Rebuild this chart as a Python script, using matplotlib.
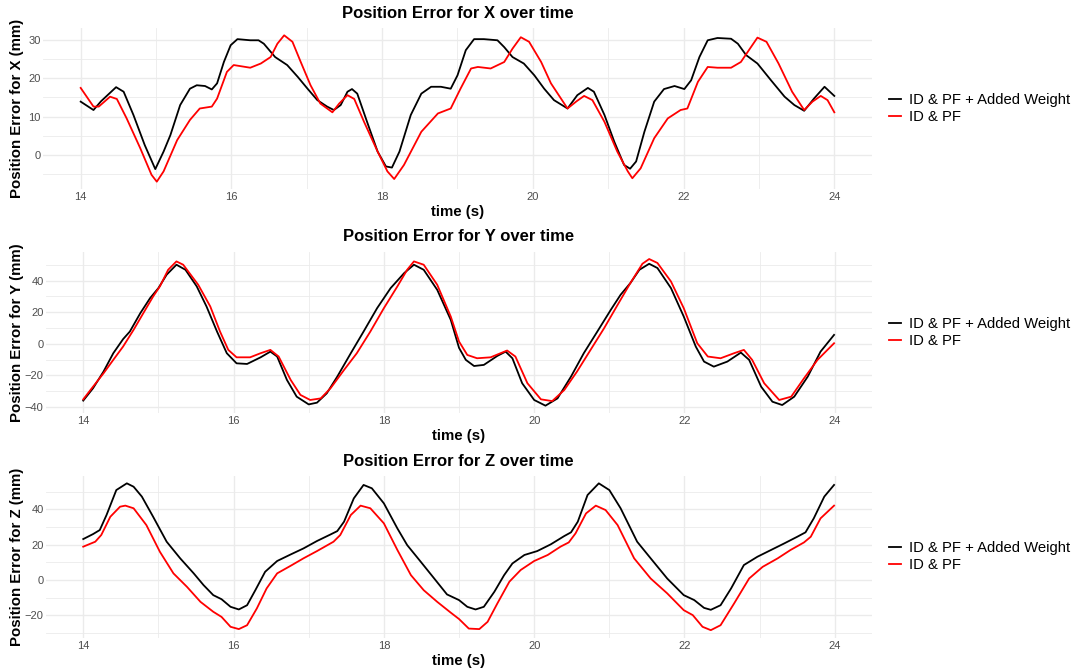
import matplotlib
matplotlib.use("Agg")
import matplotlib.pyplot as plt
from matplotlib.ticker import MultipleLocator

plt.rcParams['font.family'] = ['Liberation Sans', 'DejaVu Sans']

series_labels = ["ID & PF + Added Weight", "ID & PF"]
series_colors = ["#000000", "#FF0000"]
axis_names = ["X", "Y", "Z"]
x_ticks = [14, 16, 18, 20, 22, 24]

# ---- X panel ----
tx_black = [14.00, 14.17, 14.27, 14.47, 14.57, 14.70, 14.85, 14.99, 15.10, 15.19, 15.32, 15.45, 15.54,
            15.65, 15.74, 15.81, 15.90, 15.99, 16.08, 16.25, 16.36, 16.43, 16.52, 16.58, 16.74, 16.88,
            17.01, 17.14, 17.27, 17.36, 17.45, 17.54, 17.60, 17.67, 17.80, 17.94, 18.05, 18.13, 18.23,
            18.38, 18.52, 18.65, 18.78, 18.91, 19.00, 19.11, 19.22, 19.35, 19.53, 19.62, 19.73, 19.88,
            20.02, 20.15, 20.28, 20.46, 20.59, 20.73, 20.81, 20.95, 21.08, 21.21, 21.29, 21.37, 21.48,
            21.61, 21.74, 21.88, 22.01, 22.10, 22.21, 22.32, 22.45, 22.63, 22.72, 22.83, 22.98, 23.16,
            23.34, 23.47, 23.60, 23.73, 23.87, 24.00]
vx_black = [13.9, 11.7, 14.0, 17.7, 16.5, 10.4, 2.5, -3.8, 0.8, 5.1, 13.0, 17.3, 18.2,
            18.0, 17.1, 18.7, 24.3, 28.7, 30.3, 30.0, 30.0, 29.1, 27.0, 25.6, 23.5, 20.4,
            17.3, 14.3, 12.6, 11.7, 13.0, 16.5, 17.2, 16.0, 8.6, 0.8, -3.1, -3.4, 0.8,
            10.4, 16.0, 17.8, 17.8, 17.3, 20.8, 27.4, 30.3, 30.3, 30.0, 28.2, 25.6, 23.9,
            20.8, 17.3, 14.3, 12.1, 15.6, 17.5, 16.5, 10.4, 3.4, -2.7, -3.7, -1.8, 6.0,
            13.9, 17.2, 18.0, 17.2, 19.5, 25.6, 30.0, 30.6, 30.4, 29.1, 26.1, 23.9, 19.5,
            15.2, 13.0, 11.5, 14.7, 17.8, 15.4]
tx_red = [14.00, 14.17, 14.24, 14.39, 14.48, 14.61, 14.79, 14.94, 15.01, 15.10, 15.28, 15.45, 15.58,
          15.74, 15.81, 15.94, 16.03, 16.25, 16.39, 16.52, 16.61, 16.70, 16.81, 16.92, 17.05, 17.18,
          17.34, 17.43, 17.54, 17.63, 17.76, 17.94, 18.07, 18.16, 18.29, 18.52, 18.74, 18.91, 19.04,
          19.18, 19.27, 19.44, 19.62, 19.73, 19.84, 19.95, 20.11, 20.24, 20.46, 20.58, 20.68, 20.79,
          20.95, 21.12, 21.26, 21.32, 21.43, 21.61, 21.79, 21.96, 22.05, 22.19, 22.32, 22.45, 22.63,
          22.76, 22.88, 22.98, 23.10, 23.26, 23.44, 23.60, 23.71, 23.82, 23.91, 24.00]
vx_red = [17.5, 12.6, 12.6, 15.2, 14.6, 9.5, 1.7, -5.3, -7.1, -4.4, 3.8, 9.1, 12.1,
          12.6, 14.7, 21.7, 23.5, 22.8, 23.9, 25.6, 29.1, 31.3, 29.6, 24.3, 18.2, 13.4,
          11.1, 13.4, 15.6, 14.6, 8.6, 0.8, -4.4, -6.4, -2.7, 6.0, 10.8, 12.1, 17.3,
          22.6, 23.0, 22.6, 24.3, 27.8, 30.8, 29.6, 24.3, 18.7, 12.1, 14.0, 15.4, 14.3,
          8.6, 0.8, -4.4, -6.2, -3.6, 4.3, 9.5, 11.7, 12.1, 19.1, 23.0, 22.8, 22.8,
          24.3, 27.8, 30.7, 29.6, 23.9, 16.5, 11.7, 13.9, 15.4, 14.3, 11.1]

# ---- Y panel ----
ty_black = [14.00, 14.13, 14.27, 14.40, 14.53, 14.62, 14.76, 14.89, 15.00, 15.11, 15.24, 15.36, 15.51,
            15.64, 15.78, 15.91, 16.04, 16.18, 16.36, 16.49, 16.58, 16.71, 16.84, 17.00, 17.11, 17.24,
            17.38, 17.56, 17.73, 17.91, 18.09, 18.27, 18.40, 18.53, 18.71, 18.89, 19.00, 19.09, 19.20,
            19.33, 19.51, 19.62, 19.71, 19.84, 20.00, 20.15, 20.31, 20.49, 20.66, 20.84, 21.02, 21.15,
            21.28, 21.40, 21.53, 21.64, 21.82, 21.99, 22.15, 22.26, 22.39, 22.57, 22.75, 22.86, 23.02,
            23.17, 23.30, 23.46, 23.64, 23.81, 23.99]
vy_black = [-35.9, -28.1, -17.5, -5.9, 3.0, 7.8, 19.5, 29.0, 35.3, 43.8, 50.1, 46.9, 36.4,
            23.7, 7.8, -5.9, -12.3, -12.7, -8.5, -4.9, -8.0, -22.8, -33.4, -38.3, -37.2, -31.3,
            -20.7, -5.9, 7.8, 22.6, 35.3, 44.8, 50.1, 46.9, 34.2, 15.2, -2.5, -10.1, -14.0,
            -13.3, -7.6, -4.9, -9.1, -24.9, -35.5, -39.1, -34.5, -20.7, -5.9, 7.8, 21.6, 31.1,
            38.5, 46.9, 50.7, 48.0, 35.3, 17.3, -1.7, -11.2, -14.4, -11.2, -5.5, -10.1, -27.1,
            -36.6, -38.7, -33.4, -20.7, -4.9, 5.7]
ty_red = [14.00, 14.13, 14.27, 14.40, 14.53, 14.67, 14.80, 14.93, 15.02, 15.13, 15.24, 15.33, 15.53,
          15.69, 15.82, 15.93, 16.04, 16.22, 16.36, 16.49, 16.60, 16.76, 16.89, 17.02, 17.16, 17.29,
          17.47, 17.64, 17.82, 18.00, 18.18, 18.31, 18.40, 18.53, 18.71, 18.89, 19.00, 19.11, 19.24,
          19.42, 19.64, 19.75, 19.91, 20.09, 20.24, 20.40, 20.57, 20.75, 20.93, 21.11, 21.28, 21.44,
          21.53, 21.64, 21.82, 21.99, 22.17, 22.31, 22.48, 22.66, 22.79, 22.90, 23.06, 23.26, 23.42,
          23.59, 23.77, 23.99]
vy_red = [-35.1, -27.1, -18.6, -10.1, -1.7, 8.9, 19.5, 30.0, 36.4, 46.9, 52.2, 50.1, 37.4,
          23.7, 7.8, -3.8, -8.5, -8.5, -5.9, -3.8, -8.0, -22.8, -32.3, -35.5, -34.5, -28.1,
          -16.5, -5.9, 7.8, 22.6, 36.4, 46.9, 52.2, 50.1, 37.4, 17.3, 1.5, -7.0, -9.1,
          -8.5, -4.2, -8.0, -24.9, -35.1, -36.2, -29.2, -17.5, -3.8, 9.9, 24.7, 38.5, 50.7,
          53.7, 51.2, 39.5, 22.6, 0.4, -8.0, -9.1, -5.9, -3.8, -10.1, -24.9, -35.5, -33.4,
          -21.8, -10.1, 0.4]

# ---- Z panel ----
tz_black = [14.00, 14.13, 14.22, 14.31, 14.44, 14.58, 14.67, 14.78, 14.93, 15.11, 15.29, 15.47, 15.60,
            15.73, 15.84, 15.96, 16.07, 16.18, 16.29, 16.42, 16.58, 16.76, 16.93, 17.11, 17.29, 17.38,
            17.47, 17.60, 17.73, 17.84, 18.00, 18.18, 18.31, 18.49, 18.67, 18.84, 19.00, 19.11, 19.22,
            19.33, 19.47, 19.60, 19.71, 19.87, 20.04, 20.22, 20.40, 20.49, 20.58, 20.71, 20.86, 21.00,
            21.15, 21.37, 21.55, 21.77, 21.99, 22.13, 22.26, 22.35, 22.48, 22.62, 22.79, 22.97, 23.15,
            23.33, 23.50, 23.61, 23.72, 23.86, 23.99]
vz_black = [23.2, 26.0, 28.3, 36.8, 50.9, 54.7, 52.8, 47.2, 35.8, 21.7, 12.3, 3.8, -2.8,
            -8.5, -10.8, -15.1, -16.6, -14.2, -5.7, 4.7, 10.8, 14.5, 17.9, 22.1, 25.8, 27.7,
            33.0, 46.2, 53.8, 51.9, 43.4, 29.2, 19.8, 10.4, 0.9, -8.1, -11.3, -15.1, -16.6,
            -15.1, -6.6, 2.8, 9.4, 14.2, 16.4, 20.2, 24.9, 27.0, 33.0, 48.1, 54.7, 50.9,
            40.6, 21.7, 12.3, 0.9, -8.5, -11.3, -15.7, -16.8, -14.2, -4.7, 8.5, 13.2, 17.0,
            20.8, 24.5, 27.0, 34.9, 47.2, 53.8]
tz_red = [14.00, 14.16, 14.24, 14.36, 14.49, 14.56, 14.67, 14.84, 15.02, 15.20, 15.38, 15.56, 15.73,
          15.84, 15.96, 16.07, 16.18, 16.31, 16.44, 16.58, 16.76, 16.93, 17.11, 17.33, 17.42, 17.56,
          17.69, 17.82, 18.00, 18.18, 18.36, 18.53, 18.71, 18.89, 19.00, 19.13, 19.27, 19.38, 19.51,
          19.67, 19.82, 20.00, 20.18, 20.35, 20.46, 20.55, 20.69, 20.82, 20.95, 21.11, 21.33, 21.55,
          21.77, 21.99, 22.11, 22.24, 22.35, 22.48, 22.66, 22.86, 23.04, 23.24, 23.41, 23.59, 23.68,
          23.81, 23.99]
vz_red = [18.9, 21.7, 25.5, 35.8, 41.5, 42.1, 40.6, 31.1, 16.0, 3.8, -3.8, -12.3, -17.9,
          -20.8, -26.4, -27.7, -25.5, -16.0, -4.7, 3.8, 8.1, 12.3, 16.4, 21.7, 25.5, 36.8,
          42.1, 40.6, 32.1, 17.0, 2.8, -5.7, -12.3, -18.4, -22.0, -27.4, -27.7, -23.6, -13.2,
          -0.9, 5.7, 10.8, 14.2, 18.9, 21.3, 26.4, 37.7, 42.1, 39.6, 31.1, 12.3, 0.9,
          -7.5, -17.0, -19.8, -26.4, -28.3, -25.5, -13.2, 0.9, 7.5, 12.3, 17.0, 21.3, 24.5,
          34.9, 42.1]

panels = [
    ((tx_black, vx_black), (tx_red, vx_red), 10),
    ((ty_black, vy_black), (ty_red, vy_red), 20),
    ((tz_black, vz_black), (tz_red, vz_red), 20),
]

W, H = 1079, 671
fig = plt.figure(figsize=(W / 100, H / 100), dpi=100)
fig.patch.set_facecolor("white")

# pixel boxes: left, right, top, bottom
boxes = [(43, 872, 28, 189), (45.7, 871.6, 251.7, 413), (45.7, 871.6, 476, 637.5)]
grid_col = "#EBEBEB"

for i, ((tb, vb), (tr, vr), ystep) in enumerate(panels):
    l, r, t, b = boxes[i]
    ax = fig.add_axes([l / W, 1 - b / H, (r - l) / W, (b - t) / H])
    ax.plot(tb, vb, color=series_colors[0], lw=1.3, label=series_labels[0],
            solid_joinstyle="round")
    ax.plot(tr, vr, color=series_colors[1], lw=1.3, label=series_labels[1],
            solid_joinstyle="round")
    ax.margins(x=0.05, y=0.05)
    ax.set_xticks(x_ticks)
    ax.xaxis.set_minor_locator(MultipleLocator(1))
    ax.yaxis.set_major_locator(MultipleLocator(ystep))
    ax.yaxis.set_minor_locator(MultipleLocator(ystep / 2))
    ax.grid(True, which="major", color=grid_col, lw=1.0)
    ax.grid(True, which="minor", color=grid_col, lw=0.6)
    ax.set_axisbelow(True)
    for s in ax.spines.values():
        s.set_visible(False)
    ax.tick_params(which="both", length=0, labelsize=8, labelcolor="#4D4D4D")
    ax.tick_params(axis="x", pad=2.5)
    ax.tick_params(axis="y", pad=1.5)
    hpx = b - t
    ax.set_title(f"Position Error for {axis_names[i]} over time", fontsize=12,
                 fontweight="bold", y=1 + 15 / hpx, va="center", pad=0)
    ax.set_xlabel("time (s)", fontsize=10.8, fontweight="bold", va="center")
    ax.xaxis.set_label_coords(0.5, -23 / hpx)
    ax.set_ylabel(f"Position Error for {axis_names[i]} (mm)", fontsize=10.8,
                  fontweight="bold", va="center")
    ax.yaxis.set_label_coords((17 - l) / (r - l), 0.5)
    ax.legend(loc="center left", bbox_to_anchor=((889 - l) / (r - l), 0.5), frameon=False,
              fontsize=10.7, handlelength=0.8, handletextpad=0.55, labelspacing=0.2,
              borderpad=0, borderaxespad=0)

fig.savefig("out.png", dpi=100, facecolor="white")
